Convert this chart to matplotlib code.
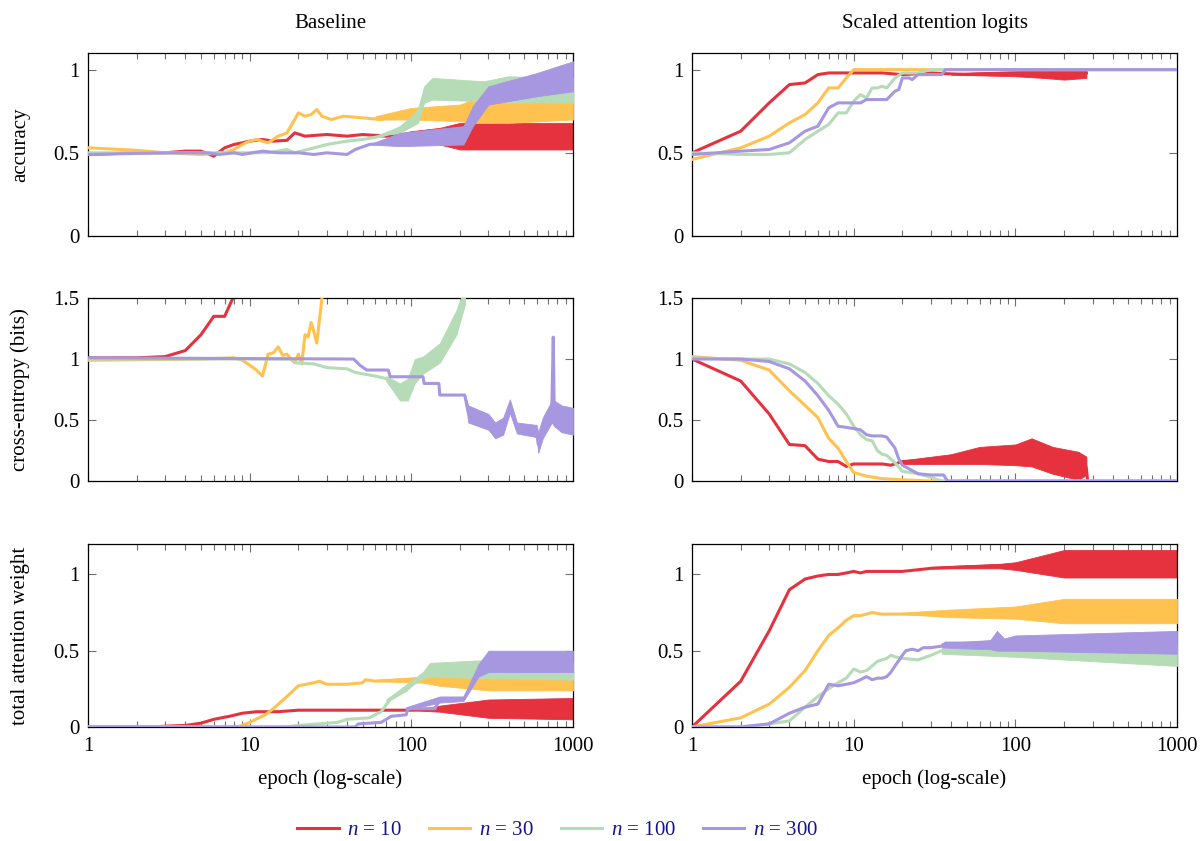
#!/usr/bin/env python3
# Baseline vs scaled attention logits: accuracy, cross-entropy and attention weight per epoch

import matplotlib
matplotlib.use('Agg')
import matplotlib.pyplot as plt
from matplotlib.ticker import FixedLocator, NullFormatter

plt.rcParams['font.family'] = ['Liberation Serif', 'DejaVu Serif']
plt.rcParams['mathtext.fontset'] = 'custom'
plt.rcParams['mathtext.rm'] = 'Liberation Serif'
plt.rcParams['mathtext.it'] = 'Liberation Serif:italic'

labels = [r'$n$ = 10', r'$n$ = 30', r'$n$ = 100', r'$n$ = 300']
colors = ['#e6323e', '#ffc24f', '#b6dbb7', '#a797e0']

# noisy stretches are given as (x, low, high) envelopes

# ---- baseline: accuracy ----
ba10_x = [1, 2, 3, 4, 5, 6, 7, 8, 9, 10, 12, 14, 17, 19, 22, 30, 40, 50, 70, 100, 150, 300, 1000]
ba10_y = [0.49, 0.5, 0.5, 0.51, 0.51, 0.48, 0.53, 0.55, 0.56, 0.57, 0.58, 0.57, 0.575, 0.62, 0.6,
          0.61, 0.6, 0.61, 0.6, 0.6, 0.6, 0.6, 0.6]
ba10_band = ([70, 100, 150, 200, 400, 1000], [0.6, 0.58, 0.55, 0.52, 0.52, 0.52],
             [0.6, 0.63, 0.65, 0.68, 0.68, 0.68])
ba30_x = [1, 2, 3, 5, 7, 8, 9, 10, 11, 12, 13, 15, 17, 19, 20, 22, 24, 26, 28, 32, 38, 50, 65, 80,
          100, 150, 200, 250, 400, 1000]
ba30_y = [0.53, 0.515, 0.5, 0.49, 0.5, 0.52, 0.55, 0.57, 0.58, 0.57, 0.56, 0.6, 0.62, 0.7, 0.74,
          0.72, 0.73, 0.76, 0.72, 0.7, 0.72, 0.71, 0.7, 0.72, 0.73, 0.74, 0.73, 0.76, 0.77, 0.78]
ba30_band = ([60, 100, 200, 240, 400, 1000], [0.7, 0.7, 0.69, 0.68, 0.68, 0.7],
             [0.72, 0.77, 0.79, 0.82, 0.84, 0.86])
ba100_x = [1, 3, 7, 10, 13, 17, 19, 25, 30, 40, 50, 65, 80, 95, 110, 120, 135, 150, 200, 280, 400,
           1000]
ba100_y = [0.5, 0.5, 0.5, 0.5, 0.5, 0.52, 0.5, 0.53, 0.55, 0.57, 0.58, 0.6, 0.63, 0.68, 0.74, 0.84,
           0.88, 0.88, 0.87, 0.86, 0.88, 0.88]
ba100_band = ([60, 85, 110, 120, 135, 280, 400, 1000], [0.6, 0.62, 0.68, 0.8, 0.82, 0.81, 0.8, 0.8],
              [0.6, 0.66, 0.76, 0.9, 0.95, 0.93, 0.96, 0.95])
ba300_x = [1, 3, 5.5, 6.5, 8, 9, 12, 15, 20, 25, 30, 40, 45, 55, 70, 90, 150, 210, 240, 260, 300,
           400, 600, 1000]
ba300_y = [0.49, 0.5, 0.5, 0.49, 0.5, 0.49, 0.51, 0.5, 0.5, 0.49, 0.5, 0.49, 0.52, 0.55, 0.56, 0.57,
           0.59, 0.62, 0.72, 0.78, 0.84, 0.88, 0.92, 0.96]
ba300_band = ([55, 85, 210, 240, 300, 600, 1000], [0.55, 0.54, 0.55, 0.66, 0.79, 0.84, 0.87],
              [0.55, 0.62, 0.66, 0.78, 0.9, 0.98, 1.05])

# ---- scaled: accuracy ----
sa10_x = [1, 2, 3, 4, 5, 6, 7, 8, 9, 10, 15, 20, 30, 50, 100, 150, 200, 275]
sa10_y = [0.5, 0.63, 0.8, 0.91, 0.92, 0.97, 0.98, 0.98, 0.98, 0.98, 0.98, 0.97, 0.98, 0.97, 0.98,
          0.98, 0.97, 0.98]
sa10_band = ([40, 100, 150, 200, 275], [0.97, 0.96, 0.95, 0.94, 0.95], [0.98, 0.99, 1.0, 1.01, 1.0])
sa30_x = [1, 2, 3, 4, 5, 6, 7, 8, 9, 10, 1000]
sa30_y = [0.46, 0.53, 0.6, 0.68, 0.73, 0.8, 0.89, 0.89, 0.95, 1.0, 1.0]
sa100_x = [1, 2, 3, 4, 5, 6, 7, 8, 9, 10, 11, 12, 13, 14, 15, 16, 18, 20, 25, 30, 1000]
sa100_y = [0.5, 0.49, 0.49, 0.5, 0.58, 0.63, 0.67, 0.74, 0.74, 0.81, 0.85, 0.83, 0.89, 0.89, 0.9,
           0.89, 0.95, 0.98, 0.98, 1.0, 1.0]
sa300_x = [1, 2, 3, 4, 5, 6, 7, 8, 10, 11, 12, 13, 16, 18, 19, 20, 22, 23, 25, 35, 37, 1000]
sa300_y = [0.49, 0.51, 0.52, 0.56, 0.63, 0.66, 0.77, 0.8, 0.8, 0.8, 0.82, 0.82, 0.82, 0.87, 0.88,
           0.95, 0.95, 0.94, 0.97, 0.97, 1.0, 1.0]

# ---- baseline: cross-entropy ----
bc10_x = [1, 2, 3, 4, 5, 6, 7, 8, 9]
bc10_y = [1.01, 1.01, 1.02, 1.07, 1.2, 1.35, 1.35, 1.52, 1.7]
bc30_x = [1, 5, 8, 9, 10, 11, 12, 13, 14, 15, 16, 17, 18, 19, 20, 21, 22, 23, 24, 25, 26, 28, 30]
bc30_y = [0.99, 1.0, 1.01, 0.99, 0.95, 0.91, 0.86, 1.04, 1.05, 1.1, 1.03, 1.04, 1.0, 0.97, 1.04,
          0.96, 1.2, 1.18, 1.3, 1.22, 1.13, 1.5, 1.6]
bc100_x = [1, 10, 18, 19, 25, 30, 40, 45, 60, 70, 75, 85, 95, 105, 118, 135, 150, 170, 190, 210, 230]
bc100_y = [1.0, 1.0, 1.0, 0.97, 0.96, 0.93, 0.92, 0.89, 0.86, 0.84, 0.78, 0.73, 0.74, 0.88, 0.95,
           1.0, 1.05, 1.2, 1.32, 1.5, 1.7]
bc100_band = ([70, 85, 95, 105, 118, 150, 190, 215], [0.82, 0.66, 0.66, 0.8, 0.88, 0.97, 1.2, 1.45],
              [0.86, 0.8, 0.84, 1.0, 1.02, 1.13, 1.4, 1.6])
bc300_x = [1, 44, 48, 53, 72, 74, 118, 120, 148, 150, 214, 225, 260, 300, 330, 370, 407, 450, 520,
           595, 610, 650, 700, 740, 755, 765, 850, 1000]
bc300_y = [1.01, 1.0, 0.95, 0.91, 0.91, 0.855, 0.855, 0.8, 0.8, 0.705, 0.705, 0.56, 0.55, 0.5, 0.42,
           0.45, 0.62, 0.43, 0.42, 0.4, 0.3, 0.42, 0.55, 0.6, 1.18, 0.6, 0.55, 0.5]
bc300_band = ([214, 225, 300, 330, 370, 407, 450, 595, 610, 650, 740, 765, 850, 1000],
              [0.7, 0.48, 0.42, 0.35, 0.38, 0.56, 0.39, 0.36, 0.23, 0.35, 0.48, 0.45, 0.4, 0.38],
              [0.71, 0.62, 0.55, 0.48, 0.52, 0.67, 0.48, 0.46, 0.4, 0.52, 0.66, 0.66, 0.62, 0.6])

# ---- scaled: cross-entropy ----
sc10_x = [1, 2, 3, 4, 5, 6, 7, 8, 9, 10, 12, 15, 17, 20, 30, 50, 80, 120, 150, 200, 245, 270, 275,
          280]
sc10_y = [1.0, 0.82, 0.55, 0.3, 0.29, 0.18, 0.16, 0.16, 0.12, 0.14, 0.14, 0.14, 0.13, 0.16, 0.17,
          0.18, 0.2, 0.22, 0.2, 0.14, 0.12, 0.15, 0.1, 0.0]
sc10_band = ([20, 40, 60, 100, 126, 170, 245, 275], [0.14, 0.14, 0.14, 0.13, 0.12, 0.06, 0.01, 0.05],
             [0.17, 0.22, 0.28, 0.3, 0.35, 0.28, 0.24, 0.2])
sc30_x = [1, 2, 3, 4, 5, 6, 7, 8, 9, 10, 12, 15, 20, 30, 1000]
sc30_y = [1.02, 0.99, 0.91, 0.74, 0.62, 0.52, 0.35, 0.27, 0.16, 0.07, 0.04, 0.02, 0.01, 0.0, 0.0]
sc100_x = [1, 2, 3, 4, 5, 6, 7, 8, 9, 10, 11, 12, 13, 14, 15, 16, 18, 20, 25, 30, 35, 1000]
sc100_y = [1.01, 1.0, 1.0, 0.96, 0.89, 0.8, 0.7, 0.63, 0.55, 0.45, 0.38, 0.34, 0.33, 0.25, 0.22,
           0.21, 0.15, 0.08, 0.06, 0.03, 0.0, 0.0]
sc300_x = [1, 2, 3, 4, 5, 6, 7, 8, 9, 10, 11, 12, 13, 15, 16, 18, 19, 20, 22, 25, 30, 36, 38, 1000]
sc300_y = [1.0, 1.0, 0.98, 0.92, 0.82, 0.7, 0.58, 0.45, 0.44, 0.43, 0.42, 0.38, 0.37, 0.37, 0.36,
           0.27, 0.18, 0.13, 0.1, 0.06, 0.05, 0.05, 0.0, 0.0]

# ---- baseline: total attention weight ----
bw10_x = [1, 2.5, 3, 4, 5, 6, 7.5, 9, 11, 15, 20, 30, 50, 100, 150, 300, 1000]
bw10_y = [0, 0, 0.005, 0.01, 0.025, 0.05, 0.07, 0.09, 0.1, 0.1, 0.11, 0.11, 0.11, 0.11, 0.12, 0.12,
          0.12]
bw10_band = ([100, 150, 300, 1000], [0.11, 0.1, 0.06, 0.05], [0.11, 0.14, 0.18, 0.19])
bw30_x = [1, 8.5, 10, 12.5, 14, 17, 20, 25, 27, 30, 40, 50, 52, 60, 100, 300, 1000]
bw30_y = [0, 0, 0.03, 0.08, 0.12, 0.2, 0.27, 0.29, 0.3, 0.28, 0.28, 0.29, 0.31, 0.3, 0.31, 0.31, 0.32]
bw30_band = ([60, 118, 150, 300, 1000], [0.3, 0.29, 0.27, 0.24, 0.24], [0.31, 0.33, 0.36, 0.38, 0.39])
bw100_x = [1, 17, 20, 35, 40, 55, 65, 74, 93, 118, 130, 200, 300, 1000]
bw100_y = [0, 0, 0.01, 0.03, 0.05, 0.06, 0.1, 0.18, 0.24, 0.34, 0.37, 0.38, 0.38, 0.37]
bw100_band = ([70, 118, 130, 300, 1000], [0.17, 0.32, 0.33, 0.32, 0.31], [0.18, 0.36, 0.42, 0.44, 0.42])
bw300_x = [1, 45, 47, 65, 70, 75, 93, 95, 140, 150, 210, 240, 260, 300, 400, 1000]
bw300_y = [0, 0, 0.02, 0.03, 0.05, 0.07, 0.08, 0.12, 0.12, 0.18, 0.18, 0.28, 0.35, 0.4, 0.43, 0.43]
bw300_band = ([93, 150, 210, 260, 300, 1000], [0.11, 0.16, 0.17, 0.33, 0.36, 0.36],
              [0.13, 0.2, 0.2, 0.41, 0.5, 0.5])

# ---- scaled: total attention weight ----
sw10_x = [1, 2, 3, 4, 5, 6, 7, 8, 9, 10, 11, 12, 15, 20, 30, 50, 100, 200, 500, 1000]
sw10_y = [0, 0.3, 0.63, 0.9, 0.97, 0.99, 1.0, 1.0, 1.01, 1.02, 1.01, 1.02, 1.02, 1.02, 1.04, 1.05,
          1.06, 1.07, 1.07, 1.07]
sw10_band = ([30, 80, 100, 200, 1000], [1.04, 1.04, 1.03, 0.98, 0.98], [1.05, 1.07, 1.08, 1.16, 1.16])
sw30_x = [1, 2, 3, 4, 5, 6, 7, 8, 9, 10, 11, 12, 13, 15, 20, 30, 50, 100, 200, 1000]
sw30_y = [0, 0.06, 0.15, 0.26, 0.37, 0.5, 0.6, 0.65, 0.7, 0.73, 0.73, 0.74, 0.75, 0.74, 0.74, 0.74,
          0.75, 0.75, 0.76, 0.76]
sw30_band = ([20, 40, 100, 200, 1000], [0.74, 0.72, 0.71, 0.68, 0.68], [0.75, 0.77, 0.79, 0.84, 0.84])
sw100_x = [1, 2, 3, 4, 5, 6, 7, 8, 9, 10, 11, 12, 13, 14, 15, 16, 17, 18, 20, 25, 30, 35, 50, 100,
           200, 1000]
sw100_y = [0, 0, 0.02, 0.04, 0.13, 0.2, 0.25, 0.29, 0.32, 0.38, 0.36, 0.37, 0.4, 0.43, 0.44, 0.45,
           0.47, 0.46, 0.45, 0.44, 0.47, 0.5, 0.5, 0.49, 0.48, 0.48]
sw100_band = ([35, 100, 1000], [0.48, 0.46, 0.4], [0.51, 0.53, 0.55])
sw300_x = [1, 2, 3, 4, 5, 6, 7, 8, 9, 10, 11, 12, 13, 14, 15, 16, 17, 18, 20, 21, 23, 25, 27, 30,
           35, 37, 50, 70, 77, 85, 100, 200, 1000]
sw300_y = [0, 0, 0.02, 0.09, 0.13, 0.15, 0.28, 0.27, 0.28, 0.29, 0.31, 0.33, 0.31, 0.32, 0.32, 0.33,
           0.36, 0.4, 0.47, 0.5, 0.51, 0.5, 0.52, 0.52, 0.53, 0.55, 0.55, 0.55, 0.6, 0.55, 0.55, 0.56,
           0.56]
sw300_band = ([35, 70, 77, 85, 100, 1000], [0.52, 0.51, 0.5, 0.5, 0.5, 0.48],
              [0.55, 0.57, 0.63, 0.58, 0.6, 0.63])

# (series, bands) per panel, row by row: left = baseline, right = scaled
panels = [
    ([(ba10_x, ba10_y), (ba30_x, ba30_y), (ba100_x, ba100_y), (ba300_x, ba300_y)],
     [ba10_band, ba30_band, ba100_band, ba300_band]),
    ([(sa10_x, sa10_y), (sa30_x, sa30_y), (sa100_x, sa100_y), (sa300_x, sa300_y)],
     [sa10_band, None, None, None]),
    ([(bc10_x, bc10_y), (bc30_x, bc30_y), (bc100_x, bc100_y), (bc300_x, bc300_y)],
     [None, None, bc100_band, bc300_band]),
    ([(sc10_x, sc10_y), (sc30_x, sc30_y), (sc100_x, sc100_y), (sc300_x, sc300_y)],
     [sc10_band, None, None, None]),
    ([(bw10_x, bw10_y), (bw30_x, bw30_y), (bw100_x, bw100_y), (bw300_x, bw300_y)],
     [bw10_band, bw30_band, bw100_band, bw300_band]),
    ([(sw10_x, sw10_y), (sw30_x, sw30_y), (sw100_x, sw100_y), (sw300_x, sw300_y)],
     [sw10_band, sw30_band, sw100_band, sw300_band]),
]
row_ylim = [1.1, 1.5, 1.2]
row_yticks = [[0, 0.5, 1], [0, 0.5, 1, 1.5], [0, 0.5, 1]]
row_ylabels = ['accuracy', 'cross-entropy (bits)', 'total attention weight']
col_titles = ['Baseline', 'Scaled attention logits']

FS = 15
fig = plt.figure(figsize=(12.04, 8.41), dpi=100)
lefts = [0.0731, 0.5748]
bottoms = [0.7194, 0.428, 0.1356]
W, H = 0.4028, 0.2176

handles = []
for i, (series, bands) in enumerate(panels):
    row, col = divmod(i, 2)
    ax = fig.add_axes([lefts[col], bottoms[row], W, H])
    for k, ((x, y), band) in enumerate(zip(series, bands)):
        if band is not None:
            ax.fill_between(band[0], band[1], band[2], color=colors[k], lw=0.6, zorder=2 + k)
        ln, = ax.plot(x, y, color=colors[k], lw=2.2, zorder=2 + k, solid_joinstyle='round')
        if i == 0:
            handles.append(ln)
    ax.set_xscale('log')
    ax.set_xlim(1, 1000)
    ax.set_ylim(0, row_ylim[row])
    ax.yaxis.set_major_locator(FixedLocator(row_yticks[row]))
    ax.set_yticklabels(['%g' % t for t in row_yticks[row]])
    ax.tick_params(which='both', direction='in', top=True, right=True, colors='#707070',
                   labelcolor='black', labelsize=FS, width=0.8)
    ax.tick_params(which='major', length=6)
    ax.tick_params(which='minor', length=4)
    ax.tick_params(axis='y', pad=6)
    for s in ax.spines.values():
        s.set_linewidth(0.9)
    if row < 2:
        ax.xaxis.set_major_formatter(NullFormatter())
        ax.xaxis.set_minor_formatter(NullFormatter())
    else:
        ax.set_xticks([1, 10, 100, 1000])
        ax.set_xticklabels(['1', '10', '100', '1000'])
        ax.xaxis.set_minor_formatter(NullFormatter())
        ax.tick_params(axis='x', pad=7)
        ax.set_xlabel('epoch (log-scale)', fontsize=FS, labelpad=10)
    if row == 0:
        ax.set_title(col_titles[col], fontsize=FS, pad=18)
    if col == 0:
        ax.set_ylabel(row_ylabels[row], fontsize=FS)
        ax.yaxis.set_label_coords(-0.12, 0.5)

fig.legend(handles, labels, loc='center', bbox_to_anchor=(0.463, 0.013), ncol=4, frameon=False,
           fontsize=FS, labelcolor='#14148c', handlelength=2.0, handletextpad=0.4,
           columnspacing=1.3)

fig.savefig('out.png', dpi=100)
